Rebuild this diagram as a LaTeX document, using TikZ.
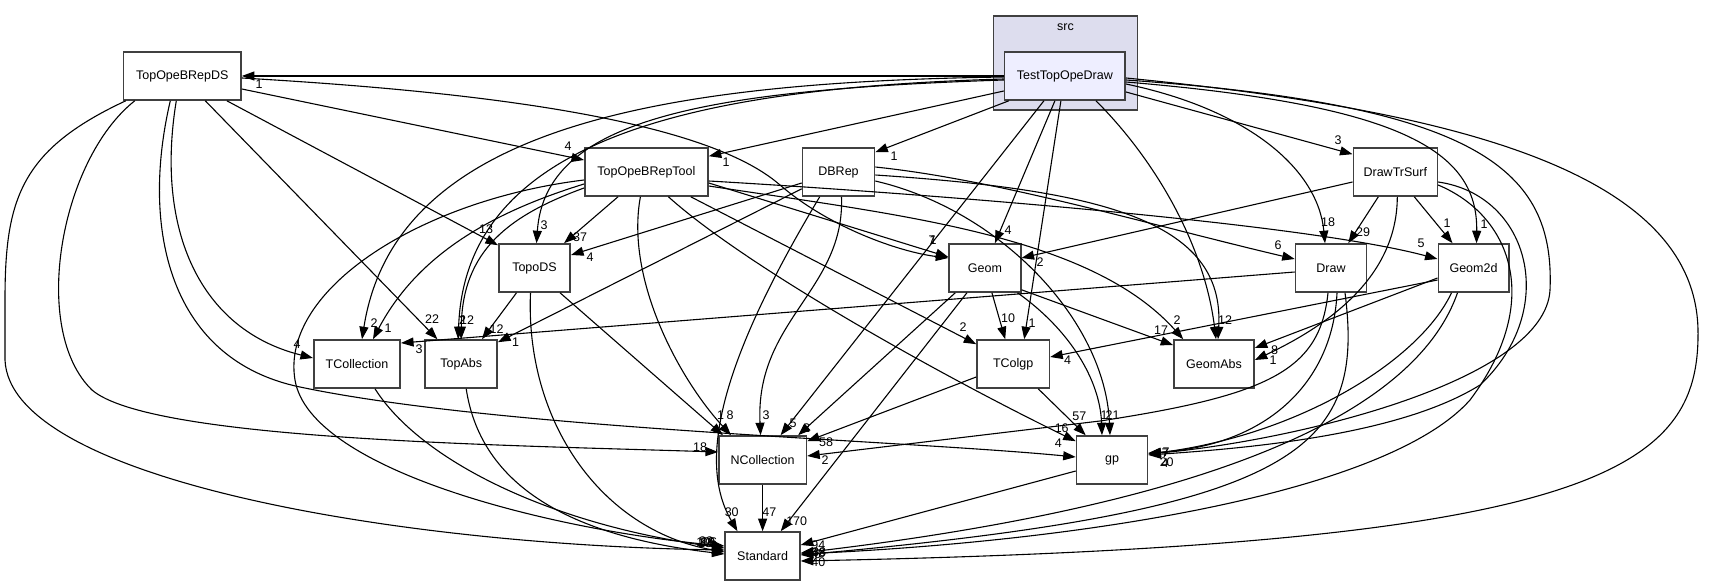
\documentclass[tikz,border=0pt]{standalone}
\usepackage{fontspec}
\setmainfont{Liberation Sans}
\usetikzlibrary{arrows.meta,calc}
\definecolor{bordercol}{HTML}{404040}
\definecolor{clusterfill}{HTML}{DDDDEE}
\definecolor{curfill}{HTML}{EEEEFF}
\newcommand\dgfont{\fontsize{12.5}{14}\selectfont}
\begin{document}
\begin{tikzpicture}[x=1pt,y=-1pt,
  box/.style={draw=bordercol, line width=1.6pt, fill=white, minimum height=48pt, inner sep=0pt, font=\dgfont},
  edge/.style={draw=black, line width=1.1pt, -{Triangle[length=12.5pt,width=9pt]}},
  lbl/.style={font=\dgfont, inner sep=0pt}]
\useasboundingbox (0,0) rectangle (1712,585);
\fill[white] (0,0) rectangle (1712,585);
% cluster
\node[draw=bordercol, line width=1.6pt, fill=clusterfill, minimum width=144pt, minimum height=94pt, inner sep=0pt] (src) at (1065.5,63) {};
\node[lbl] (srclbl) at (1065.5,27) {src};
% nodes
\node[box, fill=curfill, minimum width=120.6pt] (T) at (1064.9,76) {TestTopOpeDraw};
\node[box, minimum width=117.5pt] (DS) at (182.3,76) {TopOpeBRepDS};
\node[box, minimum width=123.2pt] (Tool) at (646.4,172) {TopOpeBRepTool};
\node[box, minimum width=72pt] (DBRep) at (838.5,172) {DBRep};
\node[box, minimum width=84pt] (DrawTrSurf) at (1395.3,172) {DrawTrSurf};
\node[box, minimum width=71.5pt] (TopoDS) at (534.5,268) {TopoDS};
\node[box, minimum width=71.7pt] (Geom) at (984.9,268) {Geom};
\node[box, minimum width=71pt] (Draw) at (1331,268) {Draw};
\node[box, minimum width=70.4pt] (Geom2d) at (1473.5,268) {Geom2d};
\node[box, minimum width=86.5pt] (TCollection) at (357,364) {TCollection};
\node[box, minimum width=72pt] (TopAbs) at (461.2,364) {TopAbs};
\node[box, minimum width=72.4pt] (TColgp) at (1013.2,364) {TColgp};
\node[box, minimum width=80pt] (GeomAbs) at (1214,364) {GeomAbs};
\node[box, minimum width=87.6pt] (NCollection) at (762.6,460) {NCollection};
\node[box, minimum width=71pt] (gp) at (1112,460) {gp};
\node[box, minimum width=74.7pt] (Standard) at (762.6,556) {Standard};

% ---- edges from TestTopOpeDraw
\draw[edge] (T.west) -- (DS.east);
\draw[edge] ($(T.west)+(0,15)$) -- ($(Tool.north east)+(0,9)$);
\draw[edge] ($(T.south west)+(5,0)$) -- ($(DBRep.north east)+(0,5)$);
\draw[edge] ($(T.east)+(0,16)$) -- ($(DrawTrSurf.north west)+(0,7)$);
\draw[edge] ($(T.east)+(0,8)$) .. controls (1250,110) and (1318,170) .. ($(Draw.north)+(-6,0)$);
\draw[edge] ($(T.east)+(0,6)$) .. controls (1400,105) and (1478,150) .. ($(Geom2d.north)+(3,0)$);
\draw[edge] ($(T.east)+(0,4)$) .. controls (1480,105) and (1555,170) .. (1550,290) .. controls (1545,380) and (1300,440) .. ($(gp.east)+(0,-6)$);
\draw[edge] ($(T.east)+(0,2)$) .. controls (1450,110) and (1695,170) .. (1698,330) .. controls (1700,470) and (1600,545) .. ($(Standard.east)+(0,5)$);
\draw[edge] ($(T.south)+(-4,0)$) -- ($(TColgp.north)+(11,0)$);
\draw[edge] ($(T.south)+(-10,0)$) -- ($(Geom.north)+(10,0)$);
\draw[edge] ($(T.south)+(-21,0)$) -- ($(NCollection.north)+(18,0)$);
\draw[edge] ($(T.south east)+(-30,0)$) .. controls (1160,165) and (1205,250) .. ($(GeomAbs.north)+(2,0)$);
\draw[edge] ($(T.west)+(0,4)$) .. controls (700,90) and (545,120) .. ($(TopoDS.north)+(2,0)$);
\draw[edge] ($(T.west)+(0,3)$) .. controls (690,88) and (465,140) .. ($(TopAbs.north)+(-3,0)$);
\draw[edge] ($(T.west)+(0,1)$) .. controls (650,82) and (395,130) .. ($(TCollection.north)+(5,0)$);

% ---- edges from TopOpeBRepDS
\draw[edge] ($(DS.east)+(0,13)$) -- ($(Tool.west)+(0,-12)$);
\draw[edge] ($(DS.east)+(0,2)$) .. controls (450,90) and (700,115) .. (780,185) .. controls (830,228) and (900,252) .. ($(Geom.west)+(0,-10)$);
\draw[edge] ($(DS.south east)+(-15,0)$) -- ($(TopoDS.north west)+(0,2)$);
\draw[edge] ($(DS.south)+(23,0)$) -- ($(TopAbs.north west)+(13,0)$);
\draw[edge] ($(DS.south)+(-6,0)$) .. controls (155,230) and (200,330) .. ($(TCollection.west)+(0,-6)$);
\draw[edge] ($(DS.south)+(-12,0)$) .. controls (140,230) and (170,360) .. (300,387) .. controls (500,429) and (900,440) .. ($(gp.west)+(0,-3)$);
\draw[edge] ($(DS.south west)+(12,0)$) .. controls (60,160) and (30,330) .. (92,390) .. controls (150,440) and (500,445) .. ($(NCollection.west)+(0,-8)$);
\draw[edge] ($(DS.south west)+(3,0)$) .. controls (20,150) and (5,200) .. (5,300) -- (5,360) .. controls (10,480) and (400,545) .. ($(Standard.west)+(0,-6)$);

% ---- edges from TopOpeBRepTool
\draw[edge] ($(Tool.south west)+(34,0)$) -- ($(TopoDS.north east)+(-7,0)$);
\draw[edge] ($(Tool.east)+(0,11)$) -- ($(Geom.west)+(0,-11)$);
\draw[edge] ($(Tool.east)+(0,9)$) .. controls (900,192) and (1300,222) .. ($(Geom2d.west)+(0,-9)$);
\draw[edge] ($(Tool.east)+(0,14)$) .. controls (900,215) and (1090,235) .. ($(GeomAbs.north west)+(10,0)$);
\draw[edge] ($(Tool.south east)+(-18,0)$) -- ($(TColgp.north west)+(0,5)$);
\draw[edge] ($(Tool.south)+(22,0)$) .. controls (750,270) and (950,380) .. ($(gp.north west)+(0,6)$);
\draw[edge] ($(Tool.south)+(-6,0)$) .. controls (625,280) and (680,380) .. ($(NCollection.north west)+(13,0)$);
\draw[edge] ($(Tool.west)+(0,12)$) .. controls (500,210) and (420,250) .. ($(TCollection.north)+(16,0)$);
\draw[edge] ($(Tool.west)+(0,16)$) .. controls (510,215) and (462,250) .. (TopAbs.north);
\draw[edge] ($(Tool.west)+(0,8)$) .. controls (420,200) and (280,290) .. (295,380) .. controls (310,470) and (550,530) .. ($(Standard.west)+(0,-10)$);

% ---- edges from DBRep
\draw[edge] ($(DBRep.west)+(0,11)$) -- ($(TopoDS.east)+(0,-13)$);
\draw[edge] ($(DBRep.south west)+(0,-8)$) -- ($(TopAbs.north east)+(0,3)$);
\draw[edge] ($(DBRep.east)+(0,-5)$) .. controls (1000,180) and (1150,225) .. ($(Draw.west)+(0,-9)$);
\draw[edge] ($(DBRep.east)+(0,3)$) .. controls (1100,190) and (1225,220) .. ($(GeomAbs.north)+(4,0)$);
\draw[edge] ($(DBRep.east)+(0,9)$) .. controls (1000,210) and (1105,320) .. ($(gp.north)+(-2,0)$);
\draw[edge] ($(DBRep.south)+(3,0)$) .. controls (845,290) and (755,320) .. ($(NCollection.north)+(-2,0)$);
\draw[edge] ($(DBRep.south west)+(18,0)$) .. controls (740,330) and (690,450) .. ($(Standard.north west)+(13,0)$);

% ---- edges from DrawTrSurf
\draw[edge] ($(DrawTrSurf.west)+(0,10)$) -- ($(Geom.east)+(0,-10)$);
\draw[edge] ($(DrawTrSurf.south)+(-17,0)$) -- ($(Draw.north east)+(-19,0)$);
\draw[edge] ($(DrawTrSurf.south)+(19,0)$) -- ($(Geom2d.north west)+(15,0)$);
\draw[edge] ($(DrawTrSurf.south)+(2,0)$) .. controls (1397,270) and (1340,320) .. ($(GeomAbs.east)+(0,-4)$);
\draw[edge] ($(DrawTrSurf.east)+(0,10)$) .. controls (1530,195) and (1560,310) .. (1480,385) .. controls (1400,435) and (1250,448) .. ($(gp.east)+(0,-5)$);
\draw[edge] ($(DrawTrSurf.east)+(0,13)$) .. controls (1510,215) and (1545,300) .. (1470,400) .. controls (1390,490) and (1100,540) .. ($(Standard.east)+(0,-2)$);

% ---- edges from Draw
\draw[edge] ($(Draw.west)+(0,4)$) -- ($(TCollection.east)+(0,-21)$);
\draw[edge] ($(Draw.south)+(-3,0)$) .. controls (1320,370) and (1270,395) .. (1100,421) -- ($(NCollection.east)+(0,-4)$);
\draw[edge] ($(Draw.south)+(6,0)$) .. controls (1333,380) and (1270,445) .. ($(gp.east)+(0,-7)$);
\draw[edge] ($(Draw.south)+(14,0)$) .. controls (1365,450) and (1300,510) .. ($(Standard.east)+(0,-1)$);

% ---- edges from Geom2d
\draw[edge] ($(Geom2d.west)+(0,12)$) -- ($(TColgp.east)+(0,-7)$);
\draw[edge] ($(Geom2d.west)+(0,10)$) -- ($(GeomAbs.east)+(0,-16)$);
\draw[edge] ($(Geom2d.south west)+(14,0)$) .. controls (1420,360) and (1300,435) .. ($(gp.east)+(0,-6)$);
\draw[edge] ($(Geom2d.south west)+(20,0)$) .. controls (1420,400) and (1250,500) .. ($(Standard.east)+(0,-3)$);

% ---- edges from Geom
\draw[edge] ($(Geom.south)+(7,0)$) -- ($(TColgp.north)+(-8,0)$);
\draw[edge] ($(Geom.south east)+(0,-3)$) -- ($(GeomAbs.north west)+(0,6)$);
\draw[edge] ($(Geom.south east)+(-4,0)$) .. controls (1070,330) and (1100,380) .. ($(gp.north)+(-10,0)$);
\draw[edge] ($(Geom.south west)+(7,0)$) -- ($(NCollection.north east)+(-9,0)$);
\draw[edge] ($(Geom.south)+(-18,0)$) -- ($(Standard.north east)+(-20,0)$);

% ---- edges from TopoDS
\draw[edge] ($(TopoDS.south)+(-18,0)$) -- ($(TopAbs.north east)+(-16,0)$);
\draw[edge] ($(TopoDS.south east)+(-11,0)$) -- ($(NCollection.north west)+(5,0)$);
\draw[edge] ($(TopoDS.south)+(-4,0)$) .. controls (525,420) and (600,530) .. ($(Standard.west)+(0,-4)$);

% ---- remaining
\draw[edge] ($(TCollection.south)+(18,0)$) .. controls (420,460) and (550,525) .. ($(Standard.west)+(0,-8)$);
\draw[edge] ($(TopAbs.south)+(5,0)$) .. controls (480,480) and (560,535) .. ($(Standard.west)+(0,-2)$);
\draw[edge] ($(TColgp.south east)+(-12,0)$) -- ($(gp.north west)+(10,0)$);
\draw[edge] ($(TColgp.west)+(0,13)$) -- ($(NCollection.north east)+(0,6)$);
\draw[edge] (NCollection.south) -- (Standard.north);
\draw[edge] ($(gp.west)+(0,11)$) -- ($(Standard.east)+(0,-11)$);

% ---- labels
\node[lbl] (l01) at (259,84) {1};
\node[lbl] (l02) at (568,146) {4};
\node[lbl] (l03) at (726,162) {1};
\node[lbl] (l04) at (894,156) {1};
\node[lbl] (l05) at (1338,140) {3};
\node[lbl] (l06) at (486,229) {13};
\node[lbl] (l07) at (544,225) {3};
\node[lbl] (l08) at (580,237) {37};
\node[lbl] (l09) at (590,257) {4};
\node[lbl] (l10) at (932,240) {7};
\node[lbl] (l11) at (933,240) {1};
\node[lbl] (l12) at (1008,230) {4};
\node[lbl] (l13) at (1040,262) {2};
\node[lbl] (l14) at (1328,222) {18};
\node[lbl] (l15) at (1363,232) {29};
\node[lbl] (l16) at (1278,245) {6};
\node[lbl] (l17) at (1421,243) {5};
\node[lbl] (l18) at (1447,223) {1};
\node[lbl] (l19) at (1484,224) {1};
\node[lbl] (l20) at (374,323) {2};
\node[lbl] (l21) at (388,328) {1};
\node[lbl] (l22) at (297,344) {4};
\node[lbl] (l23) at (419,349) {3};
\node[lbl] (l24) at (432,319) {22};
\node[lbl] (l25) at (462.5,320) {2};
\node[lbl] (l26) at (467,320) {12};
\node[lbl] (l27) at (496.5,329) {12};
\node[lbl] (l28) at (515.5,342) {1};
\node[lbl] (l29) at (963,327) {2};
\node[lbl] (l30) at (1008,318) {10};
\node[lbl] (l31) at (1032,323) {1};
\node[lbl] (l32) at (1067.5,360) {4};
\node[lbl] (l33) at (1161,330) {17};
\node[lbl] (l34) at (1177,320) {2};
\node[lbl] (l35) at (1225,320) {12};
\node[lbl] (l36) at (1274.5,350) {8};
\node[lbl] (l37) at (1273,360) {1};
\node[lbl] (l38) at (720.7,415) {1};
\node[lbl] (l39) at (730,415) {8};
\node[lbl] (l40) at (766,415) {3};
\node[lbl] (l41) at (793,423) {5};
\node[lbl] (l42) at (806.7,428) {2};
\node[lbl] (l43) at (826,442) {58};
\node[lbl] (l44) at (825,460) {2};
\node[lbl] (l45) at (700,447) {18};
\node[lbl] (l46) at (1079.3,416) {57};
\node[lbl] (l47) at (1061.7,428.3) {16};
\node[lbl] (l48) at (1058.3,443.3) {4};
\node[lbl] (l49) at (1104,415) {1};
\node[lbl] (l50) at (1112.5,415) {21};
\node[lbl] (l51) at (1166,451.7) {7};
\node[lbl] (l52) at (1165,453) {7};
\node[lbl] (l53) at (1166.7,461.7) {20};
\node[lbl] (l54) at (1165,463.3) {4};
\node[lbl] (l55) at (731.7,511.7) {30};
\node[lbl] (l56) at (769.3,511.7) {47};
\node[lbl] (l57) at (796.7,520.7) {170};
\node[lbl] (l58) at (706.7,541.7) {106};
\node[lbl] (l59) at (707.5,542.5) {96};
\node[lbl] (l60) at (706,541) {22};
\node[lbl] (l61) at (705,543) {13};
\node[lbl] (l62) at (708,542) {19};
\node[lbl] (l63) at (818.3,545) {94};
\node[lbl] (l64) at (818.3,553.3) {48};
\node[lbl] (l65) at (819,552.5) {38};
\node[lbl] (l66) at (817.5,554) {6};
\node[lbl] (l67) at (818.3,561.7) {40};
\end{tikzpicture}
\end{document}
